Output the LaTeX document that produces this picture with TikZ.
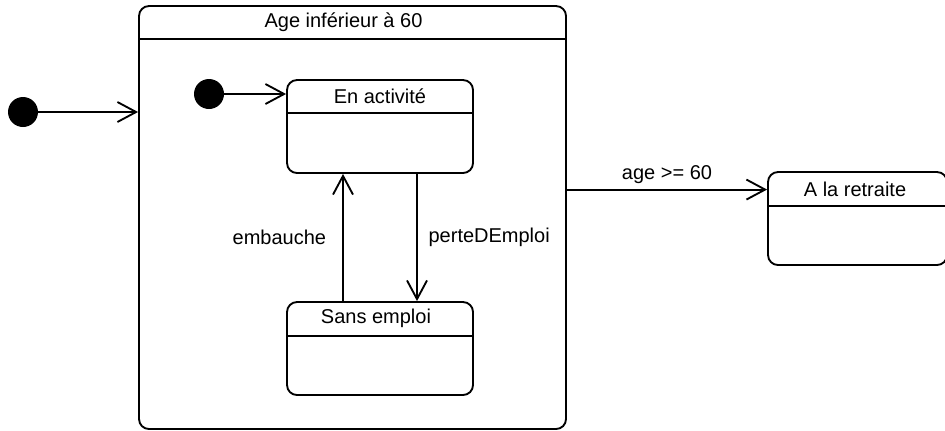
\documentclass[tikz,border=0pt]{standalone}
\usepackage{fontspec}
\setmainfont{Liberation Sans}
\usetikzlibrary{positioning, calc, arrows.meta}

\begin{document}
\begin{tikzpicture}[
    x=0.75pt, y=-0.75pt,
    every node/.style={font=\fontsize{15pt}{18pt}\selectfont},
    statebox/.style={rectangle, draw, line width=1.4pt, rounded corners=7.5pt, minimum width=139.5pt, minimum height=69.75pt, inner sep=0pt},
    title/.style={inner sep=0pt, anchor=center},
    initdot/.style={circle, fill=black, minimum size=22.5pt, inner sep=0pt},
    trans/.style={-{Straight Barb[length=14pt, width=15pt, line width=1.4pt]}, line width=1.4pt},
    lbl/.style={inner sep=0pt}
]
    \useasboundingbox (0,0) rectangle (945,430);

    % composite state
    \node[statebox, minimum width=320.25pt, minimum height=317.25pt] (young) at (352.5,217.5) {};
    \node[title] (youngT) at ($(young.north)+(-9,17)$) {Age inférieur à 60};
    \draw[line width=1.4pt] ($(young.north west)+(0,34)$) -- ($(young.north east)+(0,34)$);

    \node[initdot] (start) at (23,112) {};
    \draw[trans] (start) -- (start -| young.west);

    % inner states
    \node[initdot] (startIn) at (209,94) {};
    \node[statebox] (active) at (380,126.5) {};
    \node[title] (activeT) at ($(active.north)+(0,17.5)$) {En activité};
    \draw[line width=1.4pt] ($(active.north west)+(0,34)$) -- ($(active.north east)+(0,34)$);

    \node[statebox] (jobless) at (380,348.5) {};
    \node[title] (joblessT) at ($(jobless.north)+(-4,17.5)$) {Sans emploi};
    \draw[line width=1.4pt] ($(jobless.north west)+(0,35)$) -- ($(jobless.north east)+(0,35)$);

    \draw[trans] (startIn) -- (startIn -| active.west);
    \draw[trans] ($(jobless.north)+(-37,0)$) -- ($(active.south)+(-37,0)$) node[midway, left=12pt, lbl] {embauche};
    \draw[trans] ($(active.south)+(37,0)$) -- ($(jobless.north)+(37,0)$) node[midway, right=8pt, lbl] {perteDEmploi};

    % retired, cut off at the right
    \node[statebox, minimum width=134.25pt] (retired) at (857.5,218.5) {};
    \node[title] (retiredT) at ($(retired.north)+(-2.5,18.5)$) {A la retraite};
    \draw[line width=1.4pt] ($(retired.north west)+(0,35)$) -- ($(retired.north east)+(0,35)$);

    \draw[trans] (young.east |- retiredT) -- (retired.west |- retiredT) node[midway, above=4pt, lbl] {age >= 60};

\end{tikzpicture}
\end{document}
